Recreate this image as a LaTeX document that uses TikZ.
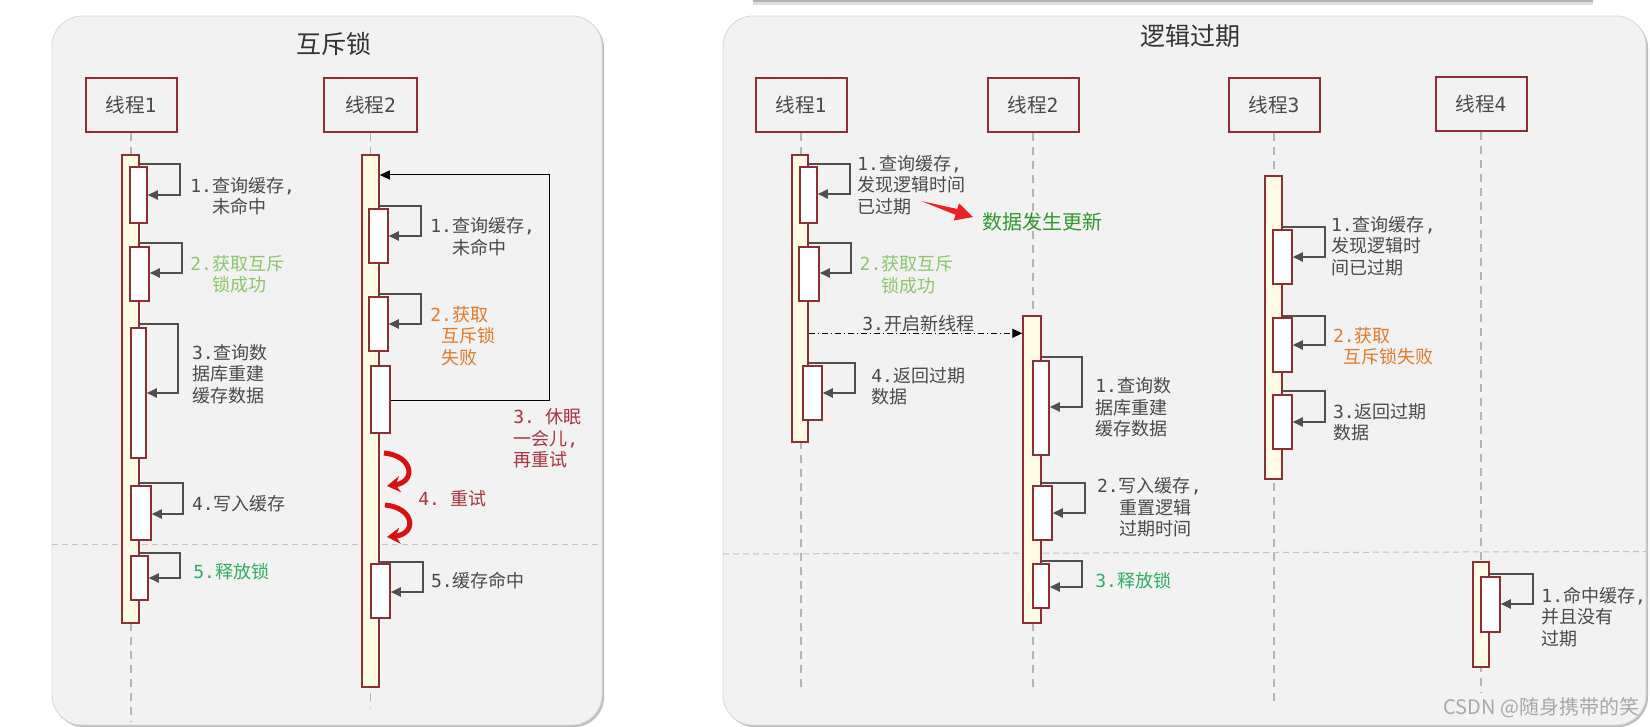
\documentclass[tikz,border=0pt]{standalone}
\usepackage{fontspec}
\setmainfont{Noto Sans CJK SC}
\newfontfamily\monof{DejaVu Sans Mono}
\usetikzlibrary{arrows.meta,fit,calc}
\definecolor{panelbg}{HTML}{F2F2F2}
\definecolor{panelbd}{HTML}{D8D8D8}
\definecolor{shadowc}{HTML}{BDBDBD}
\definecolor{boxred}{HTML}{8E2F33}
\definecolor{barfill}{HTML}{FFFBE5}
\definecolor{loopc}{HTML}{4F4F4F}
\definecolor{lifec}{HTML}{B5B5B5}
\definecolor{sepc}{HTML}{C9C2A5}
\definecolor{txt}{HTML}{4A4A4A}
\definecolor{lgreen}{HTML}{8CC66B}
\definecolor{orng}{HTML}{E07B28}
\definecolor{grn}{HTML}{2DAF62}
\definecolor{dred}{HTML}{A8333D}
\definecolor{titlec}{HTML}{333333}
\definecolor{newsg}{HTML}{2E9A2E}
\definecolor{arrred}{HTML}{EE2222}
\definecolor{arcred}{HTML}{D81010}
\definecolor{wmc}{HTML}{A8A8A8}
\newcommand\m[1]{{\monof #1}}
\newcommand\sloop[5]{\draw[lp] (#1.east |- 0,#3) -- (#4,#3) -- (#4,#5) -- (#2.east |- 0,#5);}
\tikzset{
 hdr/.style={draw=boxred, line width=1pt, minimum width=45.5pt, minimum height=27pt, inner sep=0pt, text=txt, font=\fontsize{9.8}{11}\selectfont},
 barbox/.style={draw=boxred, line width=0.75pt, fill=barfill, inner sep=0pt},
 ibox/.style={draw=boxred, line width=0.75pt, fill=white, inner sep=0pt},
 life/.style={draw=lifec, line width=0.8pt, dash pattern=on 4pt off 3pt},
 lp/.style={draw=loopc, line width=0.9pt, -{Triangle[length=5pt,width=4.5pt]}},
 lbl/.style={anchor=west, align=left, inner sep=0pt, text=txt, font=\fontsize{9}{10.7}\selectfont},
 ttl/.style={text=titlec, font=\fontsize{12.5}{14}\selectfont},
 sepline/.style={draw=sepc, line width=0.5pt, dash pattern=on 3pt off 2pt},
 redarc/.style={draw=arcred, line width=2.5pt, -{Stealth[length=6.5pt,width=8pt]}},
 retry/.style={draw=black, line width=0.5pt, -{Triangle[length=5pt,width=4.5pt]}},
 ddarr/.style={draw=black, line width=0.6pt, dash pattern=on 3pt off 1.5pt on 0.5pt off 1.5pt, -{Triangle[length=5pt,width=4.5pt]}},
}
\begin{document}
\begin{tikzpicture}[x=0.5pt,y=-0.5pt]
\useasboundingbox (0,0) rectangle (1650,727);
\fill[white] (0,0) rectangle (1650,727);
% top bar remnant
\fill[gray!25] (753,0) rectangle (1593,5);
\fill[gray!60] (753,0) rectangle (1593,2.5);
% panels
\fill[shadowc, rounded corners=15pt] (53.5,18) rectangle (604,727);
\filldraw[fill=panelbg, draw=panelbd, rounded corners=15pt] (52,16) rectangle (602,725);
\fill[shadowc, rounded corners=15pt] (724.5,18) rectangle (1648,727);
\filldraw[fill=panelbg, draw=panelbd, rounded corners=15pt] (723,16) rectangle (1646,725);
% separators
\draw[sepline] (52,544) -- (602,544);
\draw[sepline] (723,554) -- (1646,551.5);
% titles
\node[ttl] (T1) at (334,44) {互斥锁};
\node[ttl] (T2) at (1190,36) {逻辑过期};
% headers
\node[hdr] (h1) at (131,105) {线程\m{1}};
\node[hdr, minimum width=46.5pt] (h2) at (370.5,105) {线程\m{2}};
\node[hdr] (k1) at (801,105) {线程\m{1}};
\node[hdr] (k2) at (1033,105) {线程\m{2}};
\node[hdr] (k3) at (1274,105) {线程\m{3}};
\node[hdr] (k4) at (1481,104) {线程\m{4}};
% lifelines
\draw[life] (h1.south) -- (h1.south |- 0,722);
\draw[life] (h2.south) -- (h2.south |- 0,708);
\draw[life] (k1.south) -- (k1.south |- 0,693);
\draw[life] (k2.south) -- (k2.south |- 0,693);
\draw[life] (k3.south) -- (k3.south |- 0,707);
\draw[life] (k4.south) -- (k4.south |- 0,693);
% activation bars
\node[barbox, fit={(122,155) (139,623)}] (bL1) {};
\node[barbox, fit={(362,155) (379,687)}] (bL2) {};
\node[barbox, fit={(792,155) (808,442)}] (bR1) {};
\node[barbox, fit={(1023,316) (1041,623)}] (bR2) {};
\node[barbox, fit={(1265,176) (1282,479)}] (bR3) {};
\node[barbox, fit={(1473,562) (1489,667)}] (bR4) {};
% inner boxes
\node[ibox, fit={(130,167) (147,223)}] (a1) {};
\node[ibox, fit={(130,247) (149,301)}] (a2) {};
\node[ibox, fit={(131,328) (146,458)}] (a3) {};
\node[ibox, fit={(131,486) (151,540)}] (a4) {};
\node[ibox, fit={(131,556) (148,600)}] (a5) {};
\node[ibox, fit={(369,209) (388,263)}] (c1) {};
\node[ibox, fit={(369,297) (388,351)}] (c2) {};
\node[ibox, fit={(371,366) (390,433)}] (c3) {};
\node[ibox, fit={(371,564) (390,618)}] (c5) {};
\node[ibox, fit={(800,167) (817,223)}] (d1) {};
\node[ibox, fit={(799,247) (819,301)}] (d2) {};
\node[ibox, fit={(803,366) (822,420)}] (d4) {};
\node[ibox, fit={(1033,361) (1049,455)}] (e1) {};
\node[ibox, fit={(1033,486) (1052,540)}] (e2) {};
\node[ibox, fit={(1033,564) (1049,608)}] (e3) {};
\node[ibox, fit={(1273,230) (1292,284)}] (f1) {};
\node[ibox, fit={(1273,318) (1292,372)}] (f2) {};
\node[ibox, fit={(1273,395) (1292,449)}] (f3) {};
\node[ibox, fit={(1481,577) (1500,632)}] (g1) {};
% self loops
\sloop{bL1}{a1}{164}{180}{195}
\sloop{bL1}{a2}{243}{182}{273}
\sloop{bL1}{a3}{324}{178}{393}
\sloop{bL1}{a4}{483}{183}{514}
\sloop{bL1}{a5}{553}{180}{578}
\sloop{bL2}{c1}{206}{421}{236}
\sloop{bL2}{c2}{294}{421}{324}
\sloop{bL2}{c5}{562}{423}{592}
\sloop{bR1}{d1}{164}{850}{194}
\sloop{bR1}{d2}{243}{851}{273}
\sloop{bR1}{d4}{363}{855}{393}
\sloop{bR2}{e1}{357}{1082}{407}
\sloop{bR2}{e2}{483}{1085}{513}
\sloop{bR2}{e3}{561}{1082}{587}
\sloop{bR3}{f1}{227}{1325}{257}
\sloop{bR3}{f2}{316}{1325}{345}
\sloop{bR3}{f3}{391}{1325}{422}
\sloop{bR4}{g1}{574}{1533}{604}
% retry loop
\draw[retry] (c3.east |- 0,400) -- (549,400) -- (549,175) -- (bL2.east |- 0,175);
% red retry arcs
\coordinate (ra1) at (384,453); \coordinate (ra1e) at (387,486);
\draw[redarc] (ra1) .. controls (414,456) and (416,482) .. (ra1e);
\coordinate (ra2) at (385,505); \coordinate (ra2e) at (387,537);
\draw[redarc] (ra2) .. controls (415,508) and (417,534) .. (ra2e);
% new thread arrow
\draw[ddarr] (bR1.east |- 0,333.3) -- (bR2.west |- 0,333.3);
% red wedge arrow
\fill[arrred] (921,201) -- (955.5,214.8) -- (953.8,220.5) -- (973,217) -- (959,203.3) -- (957.3,209) -- cycle;
% left labels
\node[lbl] (la1) at (190,196.4) {\m{1.}查询缓存\m{,}\\\hspace*{11pt}未命中};
\node[lbl, text=lgreen] (la2) at (190,274.5) {\m{2.}获取互斥\\\hspace*{11pt}锁成功};
\node[lbl] (la3) at (191.7,373.8) {\m{3.}查询数\\据库重建\\缓存数据};
\node[lbl] (la4) at (191.7,504) {\m{4.}写入缓存};
\node[lbl, text=grn] (la5) at (193,571.7) {\m{5.}释放锁};
\node[lbl] (lc1) at (430,236.5) {\m{1.}查询缓存\m{,}\\\hspace*{11pt}未命中};
\node[lbl, text=orng] (lc2) at (430,336) {\m{2.}获取\\\hspace*{5.4pt}互斥锁\\\hspace*{5.4pt}失败};
\node[lbl, text=dred] (lc3) at (513,438.5) {\m{3.\ }休眠\\一会儿\m{,}\\再重试};
\node[lbl, text=dred] (lc4) at (418,498.3) {\m{4.\ }重试};
\node[lbl] (lc5) at (430.7,580.7) {\m{5.}缓存命中};
% right labels
\node[lbl] (rd1) at (857,185) {\m{1.}查询缓存\m{,}\\发现逻辑时间\\已过期};
\node[lbl, text=newsg, font=\fontsize{10}{12}\selectfont] (news) at (981.7,222.3) {数据发生更新};
\node[lbl, text=lgreen] (rd2) at (859.3,274.8) {\m{2.}获取互斥\\\hspace*{11pt}锁成功};
\node[lbl] (rd3) at (862,323.3) {\m{3.}开启新线程};
\node[lbl] (rd4) at (871,386.5) {\m{4.}返回过期\\数据};
\node[lbl] (re1) at (1095,407.5) {\m{1.}查询数\\据库重建\\缓存数据};
\node[lbl] (re2) at (1096.7,507.5) {\m{2.}写入缓存\m{,}\\\hspace*{11pt}重置逻辑\\\hspace*{11pt}过期时间};
\node[lbl, text=grn] (re3) at (1095,580.7) {\m{3.}释放锁};
\node[lbl] (rf1) at (1330.7,245.8) {\m{1.}查询缓存\m{,}\\发现逻辑时\\间已过期};
\node[lbl, text=orng] (rf2) at (1332.7,345.9) {\m{2.}获取\\\hspace*{5.4pt}互斥锁失败};
\node[lbl] (rf3) at (1332.7,422.5) {\m{3.}返回过期\\数据};
\node[lbl] (rg1) at (1541,617) {\m{1.}命中缓存\m{,}\\并且没有\\过期};
% watermark
\node[anchor=west, inner sep=0pt, text=wmc, font=\fontsize{10}{12}\selectfont] (wm) at (1443,708) {CSDN @随身携带的笑};
\end{tikzpicture}
\end{document}
